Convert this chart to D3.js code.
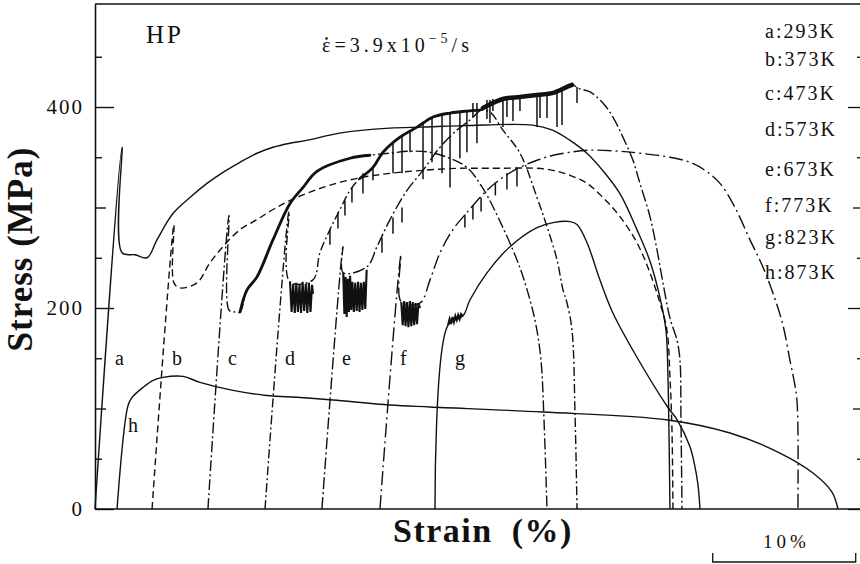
<!DOCTYPE html>
<html><head><meta charset="utf-8">
<script src="https://cdn.jsdelivr.net/npm/d3@7/dist/d3.min.js"></script>
<style>
body{margin:0;background:#fff;}
svg{display:block;background:#fff;}
svg text{font-family:"Liberation Serif","Times New Roman",serif !important;fill:#111;}
</style></head><body>
<svg id="chart" width="860" height="564"></svg>
<script>
// ---------- DATA (strain %, stress MPa) ----------
const seriesKeys = ["a","b","c","d","e","f","g","h"];
const legendLabels = ["a:293K","b:373K","c:473K","d:573K","e:673K","f:773K","g:823K","h:873K"];
const yTickLabels = [0,200,400];
const yMidTicks = [100,300];
const yMinorTicks = [50,150,250,350,450];
const scaleBarStrain = [43.2,53.2];
const scaleBarLabel = "10%";

const curveA = [[0,0],[1.89,360],[1.89,255],[2.8,253],[3.64,250],[4.34,268],[5.45,294],[6.64,310],[7.83,324],[8.95,335],[10.14,345],[11.33,354],[12.45,360],[13.64,364],[14.9,367],[17.1,374],[20.6,379],[22.9,380],[26.0,381.5],[30.6,382],[32.0,377],[33.2,367],[34.4,354],[35.5,337],[36.7,314],[37.9,278],[38.8,247],[39.5,211],[39.93,178],[40.07,131],[40.14,78],[40.21,0]];
const curveB = [[3.99,0],[5.52,283],[5.52,225],[5.94,220],[7.13,225],[8.04,245],[8.95,261],[10.14,278],[11.33,288],[12.45,298],[13.64,307],[15.94,320],[18.32,329],[20.63,334],[22.94,337],[25.31,339],[27.62,339],[30.91,339],[32.03,337],[33.22,332],[34.41,324],[35.52,310],[36.71,291],[37.9,265],[38.81,235],[39.51,205],[40.0,178],[40.21,131],[40.35,79],[40.42,0]];
const curveC = [[7.9,0],[9.37,292],[9.37,198],[9.79,196],[10.14,196],[10.63,218],[11.33,231],[12.45,268],[13.64,304],[14.55,320],[15.52,336],[17.83,349],[19.23,352],[20.6,354],[22.0,356],[23.4,355],[24.8,349],[26.0,340],[27.13,319],[28.53,280],[29.72,240],[30.42,208],[30.84,183],[31.19,148],[31.4,89],[31.61,0]];
const curveD = [[11.89,0],[13.57,296],[13.62,226],[15.24,228],[15.73,255],[16.43,278],[17.13,298],[17.83,317],[18.53,329],[19.44,340],[20.14,355],[21.33,370],[22.52,380],[23.64,390],[24.83,394],[26.01,396],[26.92,397],[27.62,395],[28.53,377],[29.72,354],[30.91,310],[31.61,281],[32.31,248],[32.73,218],[33.01,205],[33.36,178],[33.57,95],[33.71,0]];
const curveE = [[15.87,0],[17.34,261],[17.36,235],[19.02,241],[19.72,261],[20.63,288],[21.82,317],[22.94,337],[24.13,360],[25.31,377],[26.22,387],[27.13,399],[28.53,408],[29.72,410],[30.91,412],[32.03,414],[33.01,420],[33.36,422],[33.92,418],[34.62,415],[35.52,404],[36.22,390],[36.92,370],[37.62,347],[38.11,324],[38.81,291],[39.3,258],[39.72,225],[40.21,190],[40.7,168],[40.91,148],[40.98,89],[41.05,0]];
const curveF = [[19.93,0],[21.4,253],[21.42,206],[22.73,205],[23.43,228],[24.13,255],[25.03,278],[26.01,295],[27.41,317],[28.53,330],[29.72,340],[30.91,347],[32.03,352],[33.22,355],[34.41,357],[36.71,356],[38.11,354],[40.21,350],[41.61,345],[42.66,337],[43.71,324],[44.76,300],[45.8,268],[46.64,243],[47.41,215],[48.11,183],[48.6,148],[48.95,123],[49.09,108],[49.16,79],[49.16,0]];
const curveG = [[23.78,0],[24.69,183],[25.73,192],[26.22,208],[27.41,235],[29.02,261],[30.91,280],[32.03,285],[33.22,286],[33.71,283],[34.41,265],[35.31,228],[36.22,195],[37.9,151],[40.07,101],[40.7,89],[41.61,62],[41.96,42],[42.17,24],[42.31,0]];
const curveH = [[1.54,0],[2.31,103],[2.59,111],[3.36,121],[4.06,128],[4.76,131],[6.15,132],[7.34,126],[9.65,118],[12.0,113],[14.34,111],[16.64,108.5],[20.63,103.5],[23.43,101.5],[31.33,96.5],[40.07,88.6],[44.41,75.6],[47.9,55.7],[50.21,35.8],[51.54,16.9],[51.96,0]];

// dense serration blocks (zig-zag read from the hatched patches)
const meshD = [[13.64,226],[13.75,196],[13.86,224],[13.97,195],[14.08,225],[14.19,196],[14.30,223],[14.41,195],[14.52,226],[14.63,197],[14.74,224],[14.85,195],[14.96,225],[15.07,196],[15.18,223],[15.24,214]];
const meshE = [[17.36,235],[17.44,194],[17.52,231],[17.6,191],[17.68,229],[17.76,196],[17.84,232],[17.92,198],[18.0,226],[18.1,196],[18.2,225],[18.3,197],[18.4,226],[18.5,196],[18.6,225],[18.7,198],[18.8,226],[18.9,199],[19.0,238]];
const meshF = [[21.42,206],[21.52,183],[21.62,207],[21.72,182],[21.82,206],[21.92,181],[22.02,207],[22.12,182],[22.22,206],[22.32,183],[22.42,205],[22.52,184],[22.62,205],[22.73,200]];
const meshG = [[24.69,183],[24.8,189],[24.9,184],[25.0,191],[25.1,186],[25.2,192],[25.3,188],[25.4,193],[25.5,189],[25.6,194],[25.73,192]];

// serration drops: [strain, top stress, bottom stress]
const spikes = [[16.43,278,263],[16.99,295,279],[17.48,307,292],[17.97,320,305],[18.74,334,314],[19.44,340,327],[20.07,270,255],[20.84,290,274],[20.84,364,334],[21.47,372,334],[21.47,300,285],[22.03,376,355],[22.94,384,328],[23.57,389,345],[24.27,392,334],[24.83,394,320],[25.52,395,349],[25.87,293,280],[26.01,396,355],[26.43,404,390],[26.43,302,288],[26.71,404,364],[27.0,310,296],[27.41,407,388],[27.62,407,384],[27.83,408,396],[28.0,325,312],[28.53,409,380],[28.81,409,390],[28.81,334,318],[29.23,410,386],[29.51,338,321],[29.72,410,396],[30.91,412,380],[31.12,412,389],[31.61,413,389],[32.31,414,380],[32.66,416,382],[33.71,420,404]];

// strain ranges where the flow curves are densely serrated (drawn as heavy band)
const bandC = [10.14,19.3];
const bandD = [18.0,27.0];
const bandE = [26.8,33.6];

// ---------- LAYOUT ----------
const FONT = "'Liberation Serif','Times New Roman',serif";
const svg = d3.select("#chart");
const x = d3.scaleLinear().domain([0,53.5]).range([95,860]);
const y = d3.scaleLinear().domain([0,502.5]).range([509,4]);
const ink = "#111";

const curves = {a:curveA,b:curveB,c:curveC,d:curveD,e:curveE,f:curveF,g:curveG,h:curveH};
const dashes = {a:null,b:"7,4",c:"11,3,2,3",d:"9,3,2,3",e:"12,3,2,3",f:"14,4,2,4",g:null,h:null};

const line = d3.line().x(d=>x(d[0])).y(d=>y(d[1])).curve(d3.curveCatmullRom.alpha(0.5));
const lineLin = d3.line().x(d=>x(d[0])).y(d=>y(d[1]));

// frame
svg.append("line").attr("x1",x(0)).attr("x2",x(53.5)).attr("y1",y(502.5)).attr("y2",y(502.5)).attr("stroke",ink).attr("stroke-width",1.6);
svg.append("line").attr("x1",x(0)).attr("x2",x(53.5)).attr("y1",y(0)).attr("y2",y(0)).attr("stroke",ink).attr("stroke-width",1.6);

// left axis
const gL = svg.append("g").attr("transform",`translate(${x(0)},0)`);
gL.call(d3.axisLeft(y).tickValues(yTickLabels).tickSizeInner(-19).tickSizeOuter(0).tickPadding(11));
gL.append("g").call(d3.axisLeft(y).tickValues(yMidTicks).tickSizeInner(-11).tickSizeOuter(0).tickFormat(""));
gL.append("g").call(d3.axisLeft(y).tickValues(yMinorTicks).tickSizeInner(-7).tickSizeOuter(0).tickFormat(""));
gL.selectAll("g g .domain").remove();
gL.attr("font-family",FONT).attr("font-size",21);
gL.selectAll(".domain").attr("stroke",ink).attr("stroke-width",1.6);
gL.selectAll(".tick line").attr("stroke",ink).attr("stroke-width",1.4);
gL.selectAll(".tick text").attr("font-family",FONT).style("font-size","21px").style("letter-spacing","2px").attr("fill",ink);

// right ticks
const gR = svg.append("g").attr("transform",`translate(${x(53.5)},0)`);
gR.call(d3.axisRight(y).tickValues(yTickLabels).tickSizeInner(-12).tickSizeOuter(0).tickFormat(""));
gR.append("g").call(d3.axisRight(y).tickValues(yMidTicks).tickSizeInner(-7).tickSizeOuter(0).tickFormat(""));
gR.append("g").call(d3.axisRight(y).tickValues(yMinorTicks).tickSizeInner(-3).tickSizeOuter(0).tickFormat(""));
gR.selectAll(".domain").remove();
gR.selectAll(".tick line").attr("stroke",ink).attr("stroke-width",1.3);

// curves
const gC = svg.append("g");
seriesKeys.forEach(k=>{
  gC.append("path").attr("d",line(curves[k])).attr("fill","none").attr("stroke",ink)
    .attr("stroke-width",1.4).attr("stroke-dasharray",dashes[k]);
});

// heavy serrated bands
[[curveC,bandC,2.8],[curveD,bandD,2.8],[curveE,bandE,4.5]].forEach(([c,r,w])=>{
  const seg = c.filter(p=>p[0]>=r[0]&&p[0]<=r[1]);
  gC.append("path").attr("d",line(seg)).attr("fill","none").attr("stroke",ink).attr("stroke-width",w).attr("stroke-linecap","round");
});

// meshes
[meshD,meshE,meshF,meshG].forEach(m=>{
  gC.append("path").attr("d",lineLin(m)).attr("fill","none").attr("stroke",ink).attr("stroke-width",2.1).attr("stroke-linejoin","miter");
});

// spikes
gC.selectAll("line.spike").data(spikes).enter().append("line").attr("class","spike")
  .attr("x1",d=>x(d[0])).attr("x2",d=>x(d[0])).attr("y1",d=>y(d[1])).attr("y2",d=>y(d[2]))
  .attr("stroke",ink).attr("stroke-width",1.5);

// curve letters
seriesKeys.forEach(k=>{
  const c = curves[k];
  const isH = k==="h";
  svg.append("text").attr("x",x(c[0][0])+(isH?11:20)).attr("y",isH?432:365)
    .attr("font-family",FONT).style("font-size","20px").text(k);
});

// legend
const legendY = [38,66,100,136,176,212,244,279];
legendLabels.forEach((t,i)=>{
  svg.append("text").attr("x",765).attr("y",legendY[i]).attr("font-family",FONT).style("font-size","20px").style("letter-spacing","2px").text(t);
});

// title & rate
svg.append("text").attr("x",146).attr("y",43).attr("font-family",FONT).style("font-size","25px").style("letter-spacing","3px").text("HP");
const rate = svg.append("text").attr("x",322).attr("y",52).attr("font-family",FONT).style("font-size","20px").style("letter-spacing","4px");
rate.append("tspan").text("\u03B5=3.9x10");
rate.append("tspan").attr("dy",-9).style("font-size","14px").text("\u22125");
rate.append("tspan").attr("dy",9).text("/s");
// time-derivative dot over epsilon
svg.append("circle").attr("cx",326.5).attr("cy",38.5).attr("r",1.3).attr("fill",ink);

// axis titles
svg.append("text").attr("transform","translate(32,249) rotate(-90)").attr("text-anchor","middle").attr("font-family",FONT)
  .style("font-size","35px").style("font-weight","bold").style("letter-spacing","1px").text("Stress (MPa)");
svg.append("text").attr("x",393).attr("y",542).attr("font-family",FONT).style("font-size","34px").style("font-weight","bold")
  .style("letter-spacing","1.5px").style("word-spacing","9px").text("Strain (%)");

// scale bar
const sb = svg.append("g");
sb.append("path").attr("d",`M${x(scaleBarStrain[0])},553V562H${x(scaleBarStrain[1])}V553`).attr("fill","none").attr("stroke",ink).attr("stroke-width",1.3);
svg.append("text").attr("x",763).attr("y",548).attr("font-family",FONT).style("font-size","19px").style("letter-spacing","4px").text(scaleBarLabel);
</script>
</body></html>
